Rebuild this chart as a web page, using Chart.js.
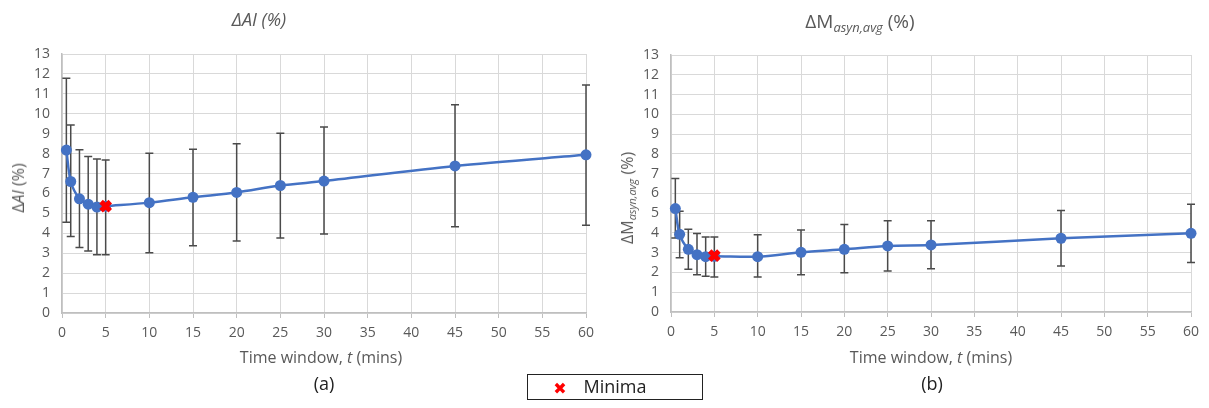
<!DOCTYPE html>
<html>
<head>
<meta charset="utf-8">
<script src="https://cdn.jsdelivr.net/npm/chart.js@4/dist/chart.umd.min.js"></script>
<style>
  html, body { margin:0; padding:0; background:#fff; }
  body { width:1209px; height:408px; position:relative; overflow:hidden; font-family:"Open Sans", "DejaVu Sans", sans-serif; }
  canvas { position:absolute; top:0; }
  .t { position:absolute; transform:translate(-50%,-50%); white-space:nowrap; color:#595959; font-weight:400; }
  .rot { transform:translate(-50%,-50%) rotate(-90deg); }
  sub { font-size:0.68em; vertical-align:-0.3em; line-height:0; }
  #legend { position:absolute; left:527px; top:374px; width:174px; height:24px; border:1.5px solid #222; }
</style>
</head>
<body>
<canvas id="cA" width="604" height="408" style="left:0px"></canvas>
<canvas id="cB" width="605" height="408" style="left:604px"></canvas>

<div class="t" style="left:259px; top:19px; font-size:18px; font-style:italic;">ΔAI (%)</div>
<div class="t" style="left:860px; top:21px; font-size:19px;">ΔM<sub><i>asyn,avg</i></sub> (%)</div>

<div class="t rot" style="left:18px; top:188px; font-size:16px;">Δ<i>AI</i> (%)</div>
<div class="t rot" style="left:627px; top:198px; font-size:16px;">ΔM<sub><i>asyn,avg</i></sub> (%)</div>

<div class="t" style="left:321px; top:357px; font-size:16px;">Time window, <i>t</i> (mins)</div>
<div class="t" style="left:931px; top:357px; font-size:16px;">Time window, <i>t</i> (mins)</div>

<div class="t" style="left:324px; top:383px; font-size:18px; color:#222;">(a)</div>
<div class="t" style="left:932px; top:383px; font-size:18px; color:#222;">(b)</div>

<div id="legend"></div>
<div class="t" style="left:560px; top:388px; font-size:16px; color:#ff0000; font-family:'DejaVu Sans';">✖</div>
<div class="t" style="left:615px; top:386px; font-size:18px; color:#222;">Minima</div>

<script>
// ---- data ----
const times   = [0.5, 1, 2, 3, 4, 5, 10, 15, 20, 25, 30, 45, 60];
const xTicks  = [0, 5, 10, 15, 20, 25, 30, 35, 40, 45, 50, 55, 60];
const yTicks  = [0, 1, 2, 3, 4, 5, 6, 7, 8, 9, 10, 11, 12, 13];

const aiMean  = [8.18, 6.60, 5.73, 5.46, 5.32, 5.36, 5.54, 5.81, 6.05, 6.40, 6.62, 7.38, 7.94];
const aiLow   = [4.56, 3.84, 3.29, 3.11, 2.93, 2.93, 3.02, 3.37, 3.61, 3.77, 3.96, 4.33, 4.41];
const aiHigh  = [11.78, 9.44, 8.19, 7.85, 7.73, 7.68, 8.02, 8.22, 8.49, 9.02, 9.34, 10.45, 11.45];
const aiMinX  = [5];
const aiMinY  = [5.36];

const mMean   = [5.23, 3.93, 3.17, 2.90, 2.80, 2.82, 2.80, 3.02, 3.17, 3.34, 3.39, 3.73, 3.98];
const mLow    = [3.74, 2.75, 2.16, 1.89, 1.81, 1.77, 1.77, 1.88, 1.99, 2.07, 2.19, 2.33, 2.51];
const mHigh   = [6.75, 5.09, 4.18, 3.97, 3.79, 3.79, 3.91, 4.15, 4.42, 4.62, 4.62, 5.14, 5.45];
const mMinX   = [5];
const mMinY   = [2.85];

// ---- error bar plugin (uses chart scales) ----
const errorBars = {
  id: 'errorBars',
  beforeDatasetsDraw(chart) {
    const ds = chart.data.datasets.find(d => d.errLow);
    if (!ds) return;
    const xs = chart.scales.x, ys = chart.scales.y, ctx = chart.ctx;
    ctx.save();
    ctx.strokeStyle = '#4a4a4a';
    ctx.lineWidth = 1.5;
    ds.data.forEach((p, i) => {
      const x = xs.getPixelForValue(p.x);
      const y1 = ys.getPixelForValue(ds.errLow[i]);
      const y2 = ys.getPixelForValue(ds.errHigh[i]);
      ctx.beginPath();
      ctx.moveTo(x, y1); ctx.lineTo(x, y2);
      ctx.moveTo(x - 4, y1); ctx.lineTo(x + 4, y1);
      ctx.moveTo(x - 4, y2); ctx.lineTo(x + 4, y2);
      ctx.stroke();
    });
    ctx.restore();
  }
};

function pts(xs, ys) { return xs.map((x, i) => ({ x: x, y: ys[i] })); }

function makeChart(id, mean, low, high, minX, minY, yAxisW, padTop, xAxisH) {
  const blue = '#4472C4';
  return new Chart(document.getElementById(id), {
    type: 'line',
    data: {
      datasets: [
        {
          data: pts(minX, minY),
          order: 0,
          showLine: false,
          pointStyle: 'crossRot',
          pointRadius: 6.5,
          pointBorderWidth: 5,
          pointBorderColor: '#ff0000',
          pointBackgroundColor: '#ff0000',
          clip: false
        },
        {
          data: pts(times, mean),
          errLow: low,
          errHigh: high,
          order: 1,
          borderColor: blue,
          borderWidth: 2.5,
          backgroundColor: blue,
          pointRadius: 5.5,
          pointBorderWidth: 0,
          pointBackgroundColor: blue,
          tension: 0.3,
          clip: false
        }
      ]
    },
    options: {
      responsive: false,
      animation: false,
      devicePixelRatio: 1,
      layout: { padding: { left: 0, top: padTop, right: 18, bottom: 0 } },
      plugins: { legend: { display: false }, title: { display: false }, tooltip: { enabled: false } },
      scales: {
        x: {
          type: 'linear', min: 0, max: 60,
          afterFit(s) { s.height = xAxisH; },
          afterBuildTicks(s) { s.ticks = xTicks.map(v => ({ value: v })); },
          grid: { color: '#d9d9d9', lineWidth: 1, drawTicks: true, tickLength: 5, tickColor: '#bfbfbf' },
          border: { color: '#bfbfbf', width: 1.5 },
          ticks: { color: '#595959', font: { family: 'Open Sans', size: 14 }, padding: 7, maxRotation: 0, autoSkip: false }
        },
        y: {
          type: 'linear', min: 0, max: 13,
          afterFit(s) { s.width = yAxisW; },
          afterBuildTicks(s) { s.ticks = yTicks.map(v => ({ value: v })); },
          grid: { color: '#d9d9d9', lineWidth: 1, drawTicks: false },
          border: { color: '#bfbfbf', width: 1.5 },
          ticks: { color: '#595959', font: { family: 'Open Sans', size: 14 }, padding: 12, autoSkip: false }
        }
      }
    },
    plugins: [errorBars]
  });
}

makeChart('cA', aiMean, aiLow, aiHigh, aiMinX, aiMinY, 62, 54, 95);
makeChart('cB', mMean, mLow, mHigh, mMinX, mMinY, 67, 55, 96);
</script>
</body>
</html>
